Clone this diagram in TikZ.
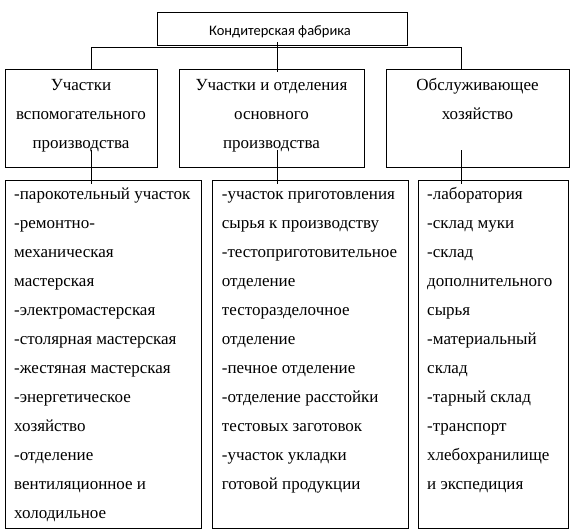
\documentclass[tikz,border=0pt]{standalone}
\usepackage{fontspec}
\setmainfont{Liberation Serif}
\newfontfamily\calfont{Carlito}
\begin{document}
\begin{tikzpicture}[x=1pt,y=-1pt,
  box/.style={draw=black,line width=1pt,rectangle,inner sep=0pt,outer sep=0pt,anchor=north west},
  head/.style={font=\fontsize{17}{29}\selectfont,align=center,inner sep=0pt,anchor=north},
  list/.style={font=\fontsize{17}{29}\selectfont,align=left,inner sep=0pt,anchor=north west},
  conn/.style={draw=black,line width=1pt}]
\fill[white] (0,0) rectangle (573,531);
\useasboundingbox (0,0) rectangle (573,531);
% boxes
\node[box,minimum width=250pt,minimum height=33pt] (top) at (157,12) {};
\node[box,minimum width=152pt,minimum height=98pt] (L2) at (5,69) {};
\node[box,minimum width=185pt,minimum height=98pt] (M2) at (179,69) {};
\node[box,minimum width=183pt,minimum height=98pt] (R2) at (386,69) {};
\node[box,minimum width=196pt,minimum height=348pt] (L3) at (5,180) {};
\node[box,minimum width=196pt,minimum height=348pt] (M3) at (212,180) {};
\node[box,minimum width=150.5pt,minimum height=348pt] (R3) at (418,180) {};
% texts
\node[font=\calfont\fontsize{14.5}{17}\selectfont,inner sep=0pt,anchor=base] (topT) at (280,35) {Кондитерская фабрика};
\node[head] (L2T) at ([yshift=-0.5pt]L2.north) {\strut Участки\\вспомогательного\\производства};
\node[head] (M2T) at ([yshift=-0.5pt]M2.north) {\strut Участки и отделения\\основного\\производства};
\node[head] (R2T) at ([yshift=-0.5pt]R2.north) {\strut Обслуживающее\\хозяйство};
\node[list] (L3T) at ([shift={(9pt,1pt)}]L3.north west) {\strut -парокотельный участок\\-ремонтно-\\механическая\\мастерская\\-электромастерская\\-столярная мастерская\\-жестяная мастерская\\-энергетическое\\хозяйство\\-отделение\\вентиляционное и\\холодильное};
\node[list] (M3T) at ([shift={(9.7pt,1pt)}]M3.north west) {\strut -участок приготовления\\сырья к производству\\-тестоприготовительное\\отделение\\тесторазделочное\\отделение\\-печное отделение\\-отделение расстойки\\тестовых заготовок\\-участок укладки\\готовой продукции};
\node[list] (R3T) at ([shift={(9pt,1pt)}]R3.north west) {\strut -лаборатория\\-склад муки\\-склад\\дополнительного\\сырья\\-материальный\\склад\\-тарный склад\\-транспорт\\хлебохранилище\\и экспедиция};
% connectors
\coordinate (busL) at (91,47.5);
\coordinate (busR) at (461,47.5);
\coordinate (midX) at (277,47.5);
\draw[conn] (L2.north -| busL) -- (busL) -- (busR) -- (R2.north -| busR);
\draw[conn] ([yshift=3pt]top.south -| midX) -- ([yshift=-3pt]M2.north -| midX);
\draw[conn] ([yshift=17pt]L2.south -| busL) -- ([yshift=-3.5pt]L3.north -| busL);
\draw[conn] ([yshift=17pt]M2.south -| midX) -- ([yshift=-3.5pt]M3.north -| midX);
\draw[conn] ([yshift=17pt]R2.south -| busR) -- ([yshift=-3.5pt]R3.north -| busR);
\end{tikzpicture}
\end{document}
